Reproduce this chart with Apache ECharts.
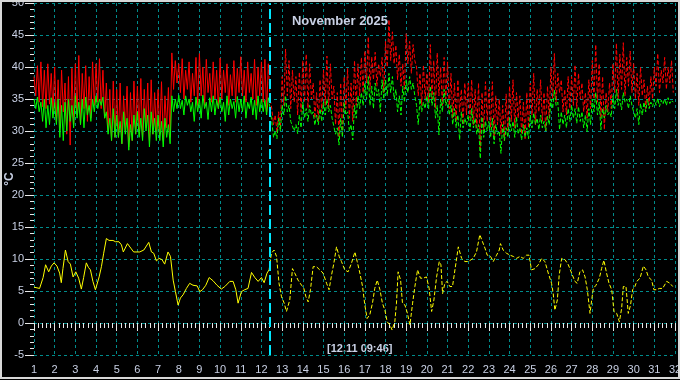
<!DOCTYPE html>
<html><head><meta charset="utf-8">
<script src="https://cdn.jsdelivr.net/npm/echarts@6/dist/echarts.min.js"></script>
<style>html,body{margin:0;padding:0;background:#000;}#c{width:680px;height:380px;}</style>
</head><body><div id="c"></div>
<script>
const chartTitle = 'November 2025';
const cursorLabel = '[12.11 09:46]';
const cursorDay = 12.407;
const unitName = '°C';
const startDay = 1;
const stepsPerDay = 12;
const yMin = -5, yMax = 50, yStep = 5;
const xMin = 1, xMax = 32, xStep = 1;

// red series, 2-hour steps, 12 values per day (days 1..31)
const redTemp = [
38.5,35.5,40.2,34.5,40.8,33.8,39.5,33.5,40.5,34.2,39.0,33.0,
40.0,31.5,38.0,30.5,39.5,33.0,37.5,29.5,38.5,27.8,39.8,31.0,
40.5,32.5,41.8,31.0,39.0,33.5,40.2,31.5,38.5,32.0,40.8,34.0,
40.5,34.5,41.3,33.5,39.5,32.0,37.5,30.0,36.5,28.5,37.8,29.0,
36.5,29.0,37.5,28.0,35.5,30.0,37.0,27.5,36.0,28.5,37.8,29.5,
37.0,30.0,38.2,29.0,36.5,30.5,37.5,28.5,38.0,29.5,36.0,30.0,
36.5,29.5,37.7,28.5,35.5,30.5,36.8,29.0,42.2,36.5,41.0,37.5,
40.5,36.0,41.3,35.0,39.5,36.5,40.8,34.5,39.0,35.5,41.5,34.0,
42.1,35.5,40.0,34.0,41.2,36.0,39.0,34.5,40.8,35.0,39.5,33.5,
41.4,35.0,39.5,36.0,40.5,34.0,38.8,35.5,41.0,34.5,39.8,36.0,
41.6,35.5,39.5,34.5,40.8,36.0,39.0,35.0,41.2,34.0,40.0,35.5,
40.8,34.5,41.2,33.0,40.5,35.0,33.5,31.0,32.5,29.8,33.0,30.5,
38.5,34.0,42.8,35.5,41.0,33.5,39.5,34.5,38.5,32.5,39.2,33.0,
41.0,34.5,42.0,33.5,40.5,35.0,37.5,32.0,36.0,31.5,38.0,33.0,
39.5,34.0,41.7,33.5,40.5,35.0,37.0,31.0,36.0,29.0,37.5,29.5,
38.5,33.5,39.8,32.0,37.5,31.5,41.0,34.0,40.5,35.5,41.5,36.0,
42.5,37.5,44.7,36.5,41.6,38.0,42.3,37.0,40.5,38.5,41.5,36.0,
44.0,40.0,47.4,41.0,45.5,40.5,43.4,38.0,42.0,37.0,40.5,36.5,
45.2,40.5,44.0,39.0,43.5,41.0,40.0,35.5,39.0,34.0,40.3,35.0,
39.0,34.5,43.5,35.0,41.0,33.5,42.2,35.5,40.0,34.0,41.5,35.0,
40.8,33.5,39.0,32.0,37.5,31.5,38.0,33.0,36.5,31.0,37.5,32.5,
37.5,32.0,38.0,31.0,36.5,30.5,37.5,27.0,36.0,30.0,37.7,31.5,
36.5,30.5,37.7,29.0,35.5,31.0,35.0,29.5,34.0,28.5,35.8,30.0,
37.0,31.5,38.0,30.5,36.0,32.0,35.5,29.5,34.5,28.8,36.0,30.5,
37.5,32.5,39.0,31.0,36.5,33.0,38.0,31.5,36.0,30.0,37.0,32.0,
40.0,35.0,42.1,34.5,39.0,36.0,38.0,33.0,36.5,32.5,38.5,33.5,
38.5,34.0,40.3,33.5,39.0,35.0,37.5,33.0,36.0,32.0,38.0,33.5,
41.0,35.0,43.5,34.5,40.5,32.0,38.5,30.2,36.0,33.0,37.5,33.5,
40.5,36.0,43.7,35.0,42.0,36.5,43.8,35.5,41.5,37.0,42.5,36.0,
40.6,35.0,39.0,34.0,40.0,35.5,38.0,33.5,37.0,34.0,38.5,35.0,
40.0,37.0,42.1,36.0,39.5,37.5,41.5,36.5,40.0,37.5,41.0,36.0
];

// green series, same time steps
const greenTemp = [
35.0,33.5,35.3,33.0,34.5,31.5,35.0,30.5,34.0,31.0,35.2,32.0,
34.5,31.0,35.0,29.0,34.0,28.5,34.5,30.0,35.0,31.5,34.0,30.5,
35.5,32.0,34.5,31.0,35.0,30.5,35.3,32.5,34.0,31.5,35.0,33.0,
35.5,33.5,35.0,34.0,35.3,32.0,33.0,29.5,32.0,28.5,33.5,29.0,
32.5,29.0,31.5,28.0,33.0,29.5,32.0,27.0,31.0,28.5,32.5,29.5,
33.0,29.0,32.0,28.5,33.5,30.0,32.5,27.5,33.0,29.5,32.0,28.5,
32.5,28.5,31.5,27.5,32.0,29.0,31.0,28.0,35.5,33.0,35.0,33.5,
35.6,33.5,34.8,32.5,35.5,34.0,35.0,33.0,34.5,31.5,35.3,33.0,
35.0,32.0,35.6,33.5,34.5,31.8,35.2,33.0,35.5,32.5,34.8,33.5,
35.3,33.0,34.5,31.5,35.5,32.5,35.0,33.5,34.6,32.0,35.4,33.0,
35.0,33.0,35.5,32.0,34.5,33.5,35.3,32.5,34.8,31.8,35.5,33.0,
35.0,33.0,34.8,32.5,35.2,33.5,31.5,29.0,30.0,28.8,32.0,30.0,
34.0,32.5,35.5,33.0,34.0,31.5,31.5,30.0,31.0,29.6,32.5,30.5,
34.5,32.0,33.5,31.5,34.0,32.5,33.0,30.9,32.5,31.0,33.5,31.5,
34.5,32.5,35.0,33.0,34.0,32.0,32.0,29.5,30.5,27.8,32.0,29.0,
34.5,32.5,33.0,30.0,31.0,28.6,34.0,32.0,35.5,33.5,36.0,34.0,
37.5,35.0,38.5,34.0,37.0,33.5,37.5,35.5,36.5,33.0,38.0,35.0,
38.0,35.5,39.0,36.0,38.5,35.0,36.5,33.0,35.5,32.5,37.0,34.5,
38.0,36.0,38.5,36.5,37.5,35.5,34.0,31.0,35.0,33.0,34.5,33.5,
35.5,33.5,37.0,34.0,36.0,32.0,34.0,29.4,35.0,33.0,36.5,34.0,
35.0,32.5,34.0,31.0,33.5,30.5,32.5,28.6,33.0,30.5,32.0,31.0,
32.5,30.0,33.5,30.5,32.0,29.5,31.0,25.7,32.2,29.0,31.5,30.0,
31.5,29.0,32.0,28.0,31.0,29.5,30.0,26.5,31.0,28.5,30.5,29.0,
32.0,30.0,31.5,29.0,32.2,29.5,30.5,28.6,31.0,29.0,30.5,28.8,
32.5,30.5,32.8,31.0,32.0,30.2,32.5,30.5,31.5,30.0,32.3,31.0,
35.0,33.5,36.4,34.0,34.5,30.2,33.0,31.0,32.5,30.5,33.5,31.5,
34.0,32.0,33.5,31.2,33.8,31.5,33.0,30.5,32.5,29.9,33.5,31.0,
35.0,33.0,36.0,32.5,34.5,30.2,33.5,32.0,34.0,32.5,33.0,32.2,
35.5,33.5,36.5,34.0,35.0,33.3,36.0,34.5,35.0,33.5,35.5,34.0,
34.0,32.0,33.5,31.0,34.3,32.5,34.5,33.0,35.0,33.5,34.5,33.8,
35.0,34.0,35.1,33.8,34.8,34.2,35.0,34.0,35.2,34.3,34.8,34.5
];

// yellow series (day of month, value)
const yellowDays = [
1.00,1.27,1.44,1.56,1.71,1.84,1.97,2.11,2.24,2.32,2.40,2.52,2.65,2.76,2.89,3.02,3.16,3.21,3.29,3.40,
3.53,3.63,3.73,3.85,3.97,4.05,4.15,4.26,4.37,4.50,4.63,4.82,4.94,5.11,5.23,5.32,5.52,5.68,5.82,6.11,
6.31,6.55,6.68,6.79,6.92,7.05,7.19,7.32,7.48,7.60,7.73,7.84,7.97,8.08,8.21,8.37,8.53,8.69,8.89,9.02,
9.15,9.31,9.47,9.66,9.85,10.06,10.23,10.47,10.63,10.76,10.87,11.03,11.19,11.35,11.52,11.68,11.84,12.00,12.13,12.27,
12.37,12.48,12.61,12.73,12.85,12.97,13.10,13.21,13.37,13.50,13.61,13.77,13.94,14.05,14.15,14.26,14.37,14.50,14.66,14.82,
14.98,15.15,15.27,15.39,15.50,15.63,15.76,15.87,16.03,16.19,16.35,16.52,16.63,16.76,16.89,17.00,17.11,17.24,17.37,17.48,
17.60,17.73,17.85,17.97,18.08,18.21,18.32,18.45,18.53,18.61,18.73,18.82,18.94,19.06,19.18,19.31,19.42,19.55,19.69,19.82,
19.98,20.11,20.23,20.34,20.47,20.60,20.68,20.76,20.87,20.98,21.11,21.24,21.52,21.60,21.68,21.84,22.00,22.24,22.40,22.56,
22.69,22.81,22.92,23.08,23.21,23.37,23.50,23.56,23.69,23.85,24.02,24.18,24.34,24.50,24.66,24.82,24.94,25.06,25.23,25.39,
25.55,25.71,25.87,26.03,26.11,26.19,26.31,26.40,26.52,26.68,26.84,27.00,27.16,27.27,27.40,27.53,27.65,27.76,27.89,27.97,
28.05,28.18,28.34,28.45,28.56,28.69,28.81,28.94,29.05,29.18,29.31,29.42,29.50,29.63,29.74,29.85,29.95,30.06,30.15,30.31,
30.47,30.60,30.71,30.87,30.98,31.11,31.24,31.40,31.60,31.76,31.89
];
const yellowTemp = [
5.6,5.4,7.1,9.1,8.0,8.9,9.4,8.9,7.8,6.3,8.5,11.4,9.6,9.2,7.2,8.0,7.0,6.8,5.3,7.1,
9.4,8.7,8.3,6.5,5.2,5.4,7.2,8.8,10.9,13.2,12.9,12.9,12.7,12.7,12.2,11.1,12.4,11.7,11.1,11.1,
11.4,12.6,11.1,10.9,9.7,10.1,9.9,9.2,11.1,10.4,6.7,4.9,2.8,3.9,4.4,5.4,6.2,5.9,5.8,4.9,
5.2,5.9,7.1,6.6,5.9,5.3,5.7,6.5,6.5,5.2,3.1,4.9,5.2,5.4,7.9,7.1,6.5,7.1,6.3,7.8,
8.3,10.9,11.4,10.4,6.2,4.1,3.1,1.8,3.6,8.5,7.8,6.7,5.9,5.4,4.1,3.3,5.2,8.8,8.8,8.3,
7.8,6.2,5.2,7.5,9.3,11.9,10.4,9.6,8.3,8.0,9.3,11.1,9.6,7.8,5.7,2.8,0.7,1.3,3.1,5.4,
6.7,5.2,3.1,2.0,0.2,-0.3,-1.1,0.2,3.1,8.0,6.7,3.1,2.8,1.5,-0.3,3.1,5.7,8.3,7.0,7.0,
7.2,5.4,1.8,3.6,7.2,9.6,9.1,4.6,6.2,6.5,5.7,5.7,11.9,11.7,10.1,9.6,9.6,10.1,11.1,13.8,
12.7,11.7,10.6,10.4,9.6,10.6,11.4,12.4,11.4,10.9,10.6,10.4,10.1,10.4,10.1,10.6,10.6,8.3,8.5,9.1,
10.1,9.6,7.8,6.2,4.6,2.0,3.6,7.5,10.1,9.9,9.1,7.8,6.5,6.2,8.0,8.3,7.2,5.2,1.5,3.6,
5.4,5.9,7.0,8.5,9.8,7.8,6.2,5.2,1.8,1.5,0.2,2.3,5.7,5.7,1.5,2.8,5.2,5.7,6.5,7.0,
8.9,8.3,7.2,6.7,5.2,5.2,5.4,5.4,6.5,6.2,5.7
];

const textColor = '#c8d0e4';
const gridColor = '#008c8c';

function splitAtCursor(xs, ys, cut) {
  const solid = [], dashed = [];
  for (let i = 0; i < xs.length; i++) {
    const p = [xs[i], ys[i]];
    if (xs[i] <= cut) solid.push(p);
    const nextAfter = i + 1 < xs.length && xs[i + 1] > cut;
    if (xs[i] > cut || (xs[i] <= cut && nextAfter)) dashed.push(p);
  }
  return [solid, dashed];
}
const stepDays = v => v.map((_, i) => startDay + i / stepsPerDay);

const [redSolid, redDashed] = splitAtCursor(stepDays(redTemp), redTemp, cursorDay);
const [greenSolid, greenDashed] = splitAtCursor(stepDays(greenTemp), greenTemp, cursorDay);
const [yelSolid, yelDashed] = splitAtCursor(yellowDays, yellowTemp, cursorDay);

function lineSeries(data, color, dashed, z) {
  return {
    type: 'line', data: data, showSymbol: false, symbol: 'none', z: z,
    silent: true, animation: false,
    lineStyle: { color: color, width: 1, type: dashed ? [4, 2] : 'solid' }
  };
}

const chart = echarts.init(document.getElementById('c'), null, { renderer: 'canvas' });
const series = [
  lineSeries(redSolid, '#ff0000', false, 2),
  lineSeries(redDashed, '#ff0000', true, 2),
  lineSeries(greenSolid, '#00ff00', false, 3),
  lineSeries(greenDashed, '#00ff00', true, 3),
  lineSeries(yelSolid, '#ffff00', false, 4),
  lineSeries(yelDashed, '#ffff00', true, 4)
];
series[4].markLine = {
  silent: true, symbol: 'none', animation: false,
  label: { show: false },
  lineStyle: { color: '#00e8ff', width: 2, type: [10, 4] },
  data: [{ xAxis: cursorDay }]
};

chart.setOption({
  backgroundColor: '#000000',
  animation: false,
  title: {
    text: chartTitle, left: 'center', top: 10,
    textStyle: { color: textColor, fontSize: 13, fontWeight: 'bold', fontFamily: 'Liberation Sans, Arial, sans-serif' }
  },
  grid: { left: 34, right: 5, top: 3, bottom: 25, containLabel: false, outerBoundsMode: 'none' },
  xAxis: {
    type: 'value', min: xMin, max: xMax, interval: xStep,
    axisLine: { show: false },
    axisTick: { show: true, length: 8, lineStyle: { color: '#e8e8e8' } },
    minorTick: { show: true, splitNumber: 5, length: 5, lineStyle: { color: '#e8e8e8' } },
    axisLabel: { color: textColor, fontSize: 11, margin: 9, fontFamily: 'Liberation Sans, Arial, sans-serif', showMaxLabel: true, showMinLabel: true },
    splitLine: { show: true, lineStyle: { color: gridColor, width: 1, type: [3, 3] } }
  },
  yAxis: {
    type: 'value', min: yMin, max: yMax, interval: yStep,
    axisLine: { show: false },
    axisTick: { show: true, length: 9, lineStyle: { color: '#e8e8e8' } },
    minorTick: { show: true, splitNumber: 5, length: 4, lineStyle: { color: '#e8e8e8' } },
    axisLabel: { color: textColor, fontSize: 11, margin: 10, fontFamily: 'Liberation Sans, Arial, sans-serif' },
    splitLine: { show: true, lineStyle: { color: gridColor, width: 1, type: [3, 3] } }
  },
  graphic: [
    { type: 'text', left: 327, top: 343, silent: true,
      style: { text: cursorLabel, fill: textColor, font: 'bold 11px "Liberation Sans", Arial, sans-serif' } },
    { type: 'text', x: 10, y: 179, rotation: Math.PI / 2, silent: true,
      style: { text: unitName, fill: textColor, align: 'center', verticalAlign: 'middle',
               font: 'bold 12px "Liberation Sans", Arial, sans-serif' } },
    { type: 'rect', silent: true, z: 100,
      shape: { x: 1, y: 1, width: 678, height: 377 },
      style: { fill: 'none', stroke: '#d8d8d8', lineWidth: 2 } }
  ],
  series: series
});
</script>
</body></html>
